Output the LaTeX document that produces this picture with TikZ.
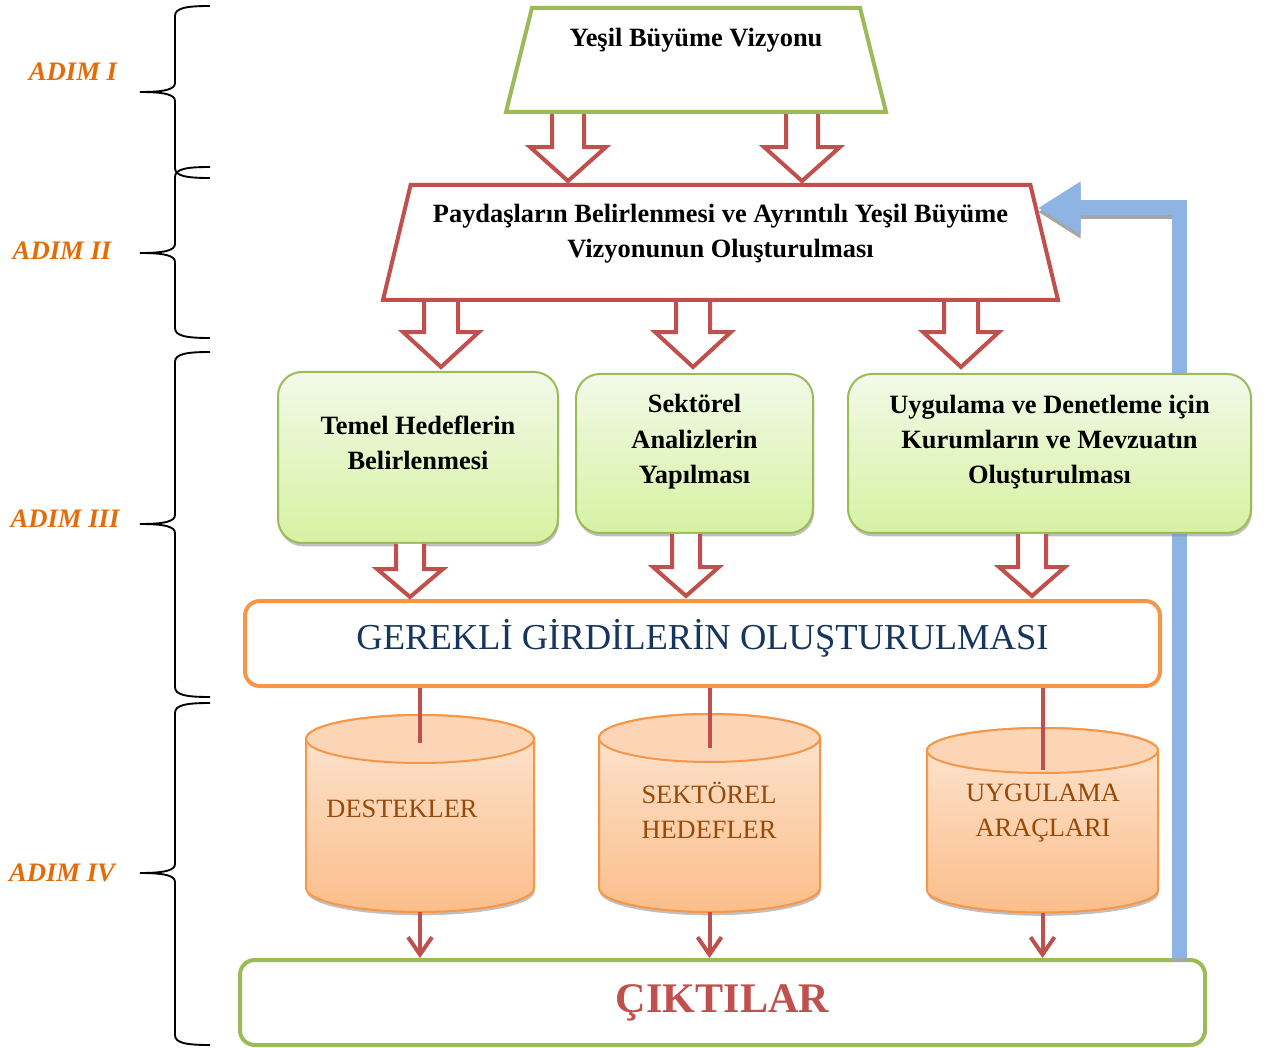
\documentclass[tikz,border=0pt]{standalone}
\usepackage{fontspec}
\setmainfont{Liberation Serif}
\usetikzlibrary{shapes.geometric,arrows.meta,shadows,calc}

\definecolor{vgreen}{RGB}{155,187,89}
\definecolor{vred}{RGB}{192,80,77}
\definecolor{vorange}{RGB}{247,150,70}
\definecolor{vblue}{RGB}{142,180,227}
\definecolor{steporange}{RGB}{227,108,9}
\definecolor{vnavy}{RGB}{23,54,93}
\definecolor{vbrown}{RGB}{152,72,7}
\definecolor{gtop}{RGB}{243,249,233}
\definecolor{gbot}{RGB}{214,242,162}
\definecolor{ctop}{RGB}{253,230,212}
\definecolor{cbot}{RGB}{251,190,138}
\definecolor{cend}{RGB}{251,213,182}

\tikzset{every picture/.style={line width=0.75pt}}
\tikzset{
  bracket/.style={line width=1.4pt},
  steplabel/.style={text=steporange, inner sep=0pt, font=\fontsize{20}{24}\selectfont\bfseries\itshape},
  plan/.style={trapezium, trapezium stretches body, fill=white, line width=3pt, inner ysep=0pt, align=center, font=\fontsize{19.8}{26.3}\selectfont\bfseries},
  goalbox/.style={draw=vgreen, line width=1.5pt, rounded corners=18pt, top color=gtop, bottom color=gbot, drop shadow={shadow xshift=0.75pt, shadow yshift=-2.5pt, fill=black!45, opacity=0.55}, align=center, font=\fontsize{19.8}{26.5}\selectfont\bfseries},
  inputbox/.style={draw=vorange, line width=3pt, rounded corners=11pt, fill=white, text=vnavy, font=\fontsize{27.4}{32}\selectfont},
  drumbody/.style={draw=vorange, line width=1.5pt, top color=ctop, bottom color=cbot, drop shadow={shadow xshift=0.5pt, shadow yshift=-2.5pt, fill=black!45, opacity=0.55}},
  drumend/.style={draw=vorange, line width=1.5pt, fill=cend},
  drumtext/.style={align=center, text=vbrown, font=\fontsize{19.8}{26.3}\selectfont},
  outbox/.style={draw=vgreen, line width=3pt, rounded corners=11pt, fill=white, text=vred, font=\fontsize{31.6}{36}\selectfont\bfseries},
  blockline/.style={draw=vred, line width=3pt, fill=white},
  drumlink/.style={draw=vred, line width=3pt},
  drumarrow/.style={draw=vred, line width=3pt, -{Straight Barb[length=13pt,width=18pt]}},
  feedback/.style={draw=vblue, line width=11.25pt, -{Triangle[length=32pt,width=37.5pt]}},
  feedshadow/.style={feedback, draw=black!35, transform canvas={yshift=-3pt}},
  pics/hollowdown/.style n args={4}{code={
    \draw[blockline] (-#1,0) -- (-#1,-#2) -- (-#4,-#2) -- (0,-#3) -- (#4,-#2) -- (#1,-#2) -- (#1,0);
  }},
  pics/drum/.style n args={3}{code={
    \path[drumbody] (-#1,0) -- (-#1,-#3) arc[start angle=180, end angle=360, x radius=#1, y radius=#2] -- (#1,0) arc[start angle=0, end angle=180, x radius=#1, y radius=#2] -- cycle;
    \draw[drumend] (0,0) ellipse [x radius=#1, y radius=#2];
    \coordinate (-top) at (0,0);
    \coordinate (-bottom) at (0,-#3-#2);
  }},
}

\begin{document}
\begin{tikzpicture}[x=0.75pt,y=0.75pt,yscale=-1,xscale=1]
\useasboundingbox (0,0) rectangle (1268,1048);

%Shape: Braces
\foreach \ya/\ym/\yb in {6/92/178,167/253/338,352/524/697,703/873/1045}
  \draw[bracket] (210,\ya) .. controls (186,\ya) and (175,\ya+2) .. (175,\ya+10) -- (175,\ym-9) .. controls (175,\ym-3) and (166,\ym) .. (140,\ym) .. controls (166,\ym) and (175,\ym+3) .. (175,\ym+9) -- (175,\yb-10) .. controls (175,\yb-2) and (186,\yb) .. (210,\yb);

% Text Node
\node[steplabel] (step1) at (73,72) {ADIM I};
% Text Node
\node[steplabel] (step2) at (62,251) {ADIM II};
% Text Node
\node[steplabel] (step3) at (65,519) {ADIM III};
% Text Node
\node[steplabel] (step4) at (62,873) {ADIM IV};

%Shape: Trapezoid
\node[plan, draw=vgreen, trapezium angle=76, minimum width=285pt, text height=29.25pt, text depth=48.75pt] (vision) at (696,60) {Yeşil Büyüme Vizyonu};
%Shape: Trapezoid
\node[plan, draw=vred, trapezium angle=76.5, minimum width=506.25pt, text height=54.5pt, text depth=31.75pt] (stake) at (720.5,242.5) {Paydaşların Belirlenmesi ve Ayrıntılı Yeşil Büyüme\\Vizyonunun Oluşturulması};

%Shape: Rounded Rect
\node[outbox, minimum width=723.75pt, minimum height=63.75pt] (outputs) at (722.5,1002.5) {ÇIKTILAR};

%Straight Lines
\coordinate (fbtip) at ($(stake.top right corner)!0.21!(stake.bottom right corner)$);
\draw[feedshadow] (outputs.north -| 1179,0) |- (fbtip);
\draw[feedback] (outputs.north -| 1179,0) |- (fbtip);

%Shape: Rounded Rect
\node[goalbox, minimum width=210pt, minimum height=128.25pt, text depth=22.5pt] (goals) at (418,457.5) {Temel Hedeflerin\\Belirlenmesi};
\node[goalbox, minimum width=177.75pt, minimum height=119.25pt, text depth=21.5pt] (sectors) at (694.5,453.5) {Sektörel\\Analizlerin\\Yapılması};
\node[goalbox, minimum width=302.25pt, minimum height=119.25pt, text depth=21pt] (inst) at (1049.5,453.5) {Uygulama ve Denetleme için\\Kurumların ve Mevzuatın\\Oluşturulması};

%Shape: Rounded Rect
\node[inputbox, minimum width=686.25pt, minimum height=63.75pt, text depth=13.5pt] (inputs) at (702.5,643.5) {GEREKLİ GİRDİLERİN OLUŞTURULMASI};

%Shape: Block Arrows
\pic at (568,0 |- vision.south) {hollowdown={16}{33}{67}{38}};
\pic at (802,0 |- vision.south) {hollowdown={16}{33}{67}{38}};
\pic at (441,0 |- stake.south) {hollowdown={17}{30}{65}{38}};
\pic at (693,0 |- stake.south) {hollowdown={17}{30}{65}{38}};
\pic at (961,0 |- stake.south) {hollowdown={17}{30}{65}{38}};
\pic at (410,0 |- goals.south) {hollowdown={14}{25}{53}{33}};
\pic at (686,0 |- sectors.south) {hollowdown={14}{33}{62}{33}};
\pic at (1032,0 |- inst.south) {hollowdown={14}{33}{62}{33}};

%Shape: Can
\pic (suppcan) at (420,739) {drum={114}{24}{149}};
\node[drumtext] (supp) at (402,809) {DESTEKLER};
%Shape: Can
\pic (sectcan) at (709.5,738) {drum={110.5}{24}{150}};
\node[drumtext] (sectgoals) at (709,810.5) {SEKTÖREL\\HEDEFLER};
%Shape: Can
\pic (toolcan) at (1042.5,750.5) {drum={115.5}{22.5}{139.5}};
\node[drumtext] (tools) at (1043,813.5) {UYGULAMA\\ARAÇLARI};

%Straight Lines
\draw[drumlink] (inputs.south -| suppcan-top) -- ([yshift=3pt]suppcan-top);
\draw[drumlink] (inputs.south -| sectcan-top) -- ([yshift=7.5pt]sectcan-top);
\draw[drumlink] (inputs.south -| toolcan-top) -- ([yshift=14.5pt]toolcan-top);
\draw[drumarrow] (suppcan-bottom) -- (suppcan-bottom |- outputs.north);
\draw[drumarrow] (sectcan-bottom) -- (sectcan-bottom |- outputs.north);
\draw[drumarrow] (toolcan-bottom) -- (toolcan-bottom |- outputs.north);

\end{tikzpicture}
\end{document}
